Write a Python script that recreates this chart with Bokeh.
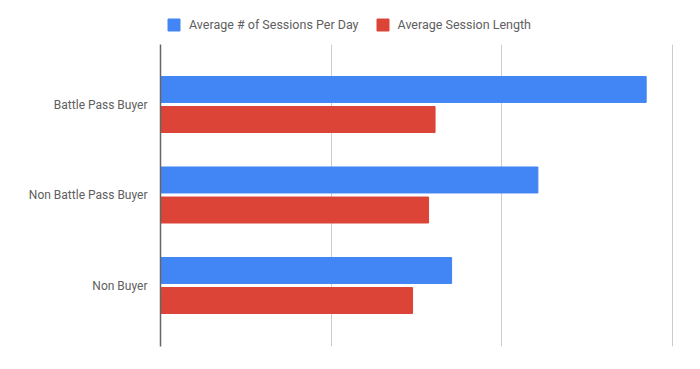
from bokeh.plotting import figure
from bokeh.layouts import column
from bokeh.models import ColumnDataSource, Range1d, FixedTicker, Legend, LegendItem
from bokeh.transform import dodge
from bokeh.embed import file_html
from bokeh.resources import INLINE

categories = ["Battle Pass Buyer", "Non Battle Pass Buyer", "Non Buyer"]
sessions_per_day = [2.848, 2.213, 1.707]
session_length = [1.610, 1.572, 1.478]
series_names = ["Average # of Sessions Per Day", "Average Session Length"]
colors = ["#4285F4", "#DB4437"]
grid_ticks = [0, 1, 2, 3]
text_color = "#606060"

pos = list(range(len(categories)))
src = ColumnDataSource(dict(pos=pos, a=sessions_per_day, b=session_length))
bh = 0.287

# ---- main chart ----
p = figure(width=690, height=305, output_backend="svg", toolbar_location=None,
           x_range=Range1d(0, 3.02), y_range=Range1d(2.674, -0.663),
           min_border_left=160, min_border_right=15, min_border_top=0, min_border_bottom=3)
p.outline_line_color = None

p.hbar(y=dodge("pos", -0.166), left=0, right="a", height=bh, source=src,
       fill_color=colors[0], line_color=colors[0])
p.hbar(y=dodge("pos", 0.166), left=0, right="b", height=bh, source=src,
       fill_color=colors[1], line_color=colors[1])

p.xaxis.visible = False
p.xgrid.ticker = FixedTicker(ticks=grid_ticks)
p.xgrid.grid_line_color = "#cccccc"
p.xgrid.grid_line_width = 1
p.ygrid.grid_line_color = None

ya = p.yaxis[0]
ya.ticker = FixedTicker(ticks=pos)
ya.major_label_overrides = {i: c for i, c in enumerate(categories)}
ya.major_tick_line_color = None
ya.minor_tick_line_color = None
ya.axis_line_color = "#666666"
ya.axis_line_width = 1.5
ya.major_label_text_font = "Roboto"
ya.major_label_text_font_size = "12px"
ya.major_label_text_color = text_color
ya.major_label_standoff = 7

# ---- legend strip (its frame is aligned with the chart frame) ----
lg = figure(width=690, height=44, output_backend="svg", toolbar_location=None,
            x_range=Range1d(0, 3.02), y_range=Range1d(100, 101),
            min_border_left=160, min_border_right=15, min_border_top=0, min_border_bottom=0)
lg.axis.visible = False
lg.grid.grid_line_color = None
lg.outline_line_color = None
g1 = lg.hbar(y="pos", left=0, right="a", height=bh, source=src,
             fill_color=colors[0], line_color=colors[0])
g2 = lg.hbar(y="pos", left=0, right="b", height=bh, source=src,
             fill_color=colors[1], line_color=colors[1])

legend = Legend(items=[LegendItem(label=series_names[0], renderers=[g1], index=0),
                       LegendItem(label=series_names[1], renderers=[g2], index=0)],
                orientation="horizontal", location=(6, 12))
legend.border_line_color = None
legend.background_fill_alpha = 0
legend.padding = 0
legend.margin = 0
legend.spacing = 16
legend.glyph_width = 15
legend.glyph_height = 15
legend.label_standoff = 8
legend.label_text_font = "Roboto"
legend.label_text_font_size = "12.5px"
legend.label_text_color = text_color
legend.label_height = 15
lg.add_layout(legend, "center")

layout = column(lg, p, spacing=0)
open("out.html", "w").write(file_html(layout, INLINE))
